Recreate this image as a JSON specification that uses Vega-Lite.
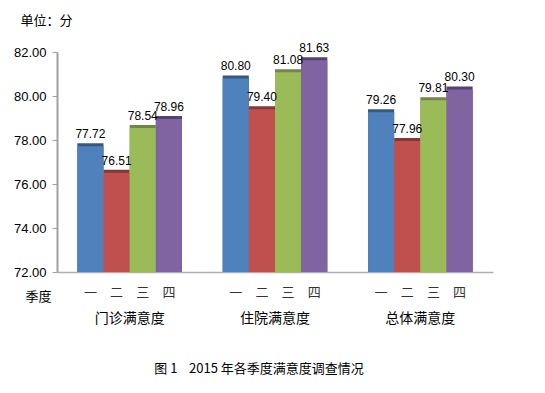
{
  "$schema": "https://vega.github.io/schema/vega-lite/v6.json",
  "autosize": {"type": "none"},
  "width": 436,
  "height": 220,
  "padding": {"left": 57, "top": 52, "right": 52, "bottom": 121},
  "background": "white",
  "config": {"view": {"stroke": null}, "font": "Noto Sans CJK SC"},
  "title": {"text": "图 1\u00a0\u00a0\u00a0\u00a02015 年各季度满意度调查情况", "orient": "bottom", "anchor": "middle", "dx": -16, "offset": 38, "fontSize": 13, "fontWeight": "normal", "font": "Noto Sans CJK SC", "color": "#000000"},
  "data": {"values": [
    {"group": "门诊满意度", "quarter": "一", "value": 77.72},
    {"group": "门诊满意度", "quarter": "二", "value": 76.51},
    {"group": "门诊满意度", "quarter": "三", "value": 78.54},
    {"group": "门诊满意度", "quarter": "四", "value": 78.96},
    {"group": "住院满意度", "quarter": "一", "value": 80.80},
    {"group": "住院满意度", "quarter": "二", "value": 79.40},
    {"group": "住院满意度", "quarter": "三", "value": 81.08},
    {"group": "住院满意度", "quarter": "四", "value": 81.63},
    {"group": "总体满意度", "quarter": "一", "value": 79.26},
    {"group": "总体满意度", "quarter": "二", "value": 77.96},
    {"group": "总体满意度", "quarter": "三", "value": 79.81},
    {"group": "总体满意度", "quarter": "四", "value": 80.30}
  ]},
  "encoding": {
    "x": {"field": "group", "type": "nominal", "sort": null,
      "scale": {"paddingInner": 0.28, "paddingOuter": 0.14},
      "axis": {"title": "季度", "titleAngle": 0, "titleX": -19, "titleY": 24, "titleAlign": "center", "titleBaseline": "middle", "titleFontSize": 13, "titleFontWeight": "normal", "titleColor": "#000000",
        "labelAngle": 0, "labelPadding": 46, "labelBaseline": "middle", "labelFontSize": 14, "labelColor": "#000000", "ticks": false, "domainColor": "#B0B0B0", "domainWidth": 1.5}},
    "xOffset": {"field": "quarter", "type": "nominal", "sort": null, "scale": {"paddingInner": 0, "paddingOuter": 0}},
    "y": {"field": "value", "type": "quantitative",
      "scale": {"domain": [72, 82], "zero": false, "nice": false},
      "axis": {"values": [72, 74, 76, 78, 80, 82], "format": ".2f", "grid": false, "title": "单位：分", "titleAngle": 0, "titleX": -11, "titleY": -32, "titleAlign": "center", "titleBaseline": "middle", "titleFontSize": 13, "titleFontWeight": "normal", "titleColor": "#000000",
        "labelFontSize": 13, "labelFont": "Liberation Sans", "labelColor": "#000000", "labelPadding": 6, "tickSize": 5, "tickColor": "#A0A0A0", "domainColor": "#A0A0A0", "domainWidth": 2}},
    "y2": {"datum": 72}
  },
  "layer": [
    {"mark": {"type": "bar", "xOffset": 4, "yOffset": -3},
      "encoding": {"color": {"field": "quarter", "type": "nominal", "sort": null, "legend": null,
        "scale": {"domain": ["一", "二", "三", "四"], "range": ["#2F5A8E", "#8E3331", "#6E8B3A", "#56407A"]}}}},
    {"mark": {"type": "bar"},
      "encoding": {"fill": {"field": "quarter", "type": "nominal", "sort": null, "legend": null,
        "scale": {"domain": ["一", "二", "三", "四"], "range": ["#4F81BD", "#C0504D", "#9BBB59", "#8064A2"]}}}},
    {"mark": {"type": "text", "dy": -12, "fontSize": 12, "font": "Liberation Sans", "color": "#000000"},
      "encoding": {"text": {"field": "value", "type": "quantitative", "format": ".2f"}}},
    {"mark": {"type": "text", "baseline": "middle", "dy": 21, "fontSize": 13, "color": "#333333"},
      "encoding": {"y": {"datum": 72}, "text": {"field": "quarter"}}}
  ]
}
